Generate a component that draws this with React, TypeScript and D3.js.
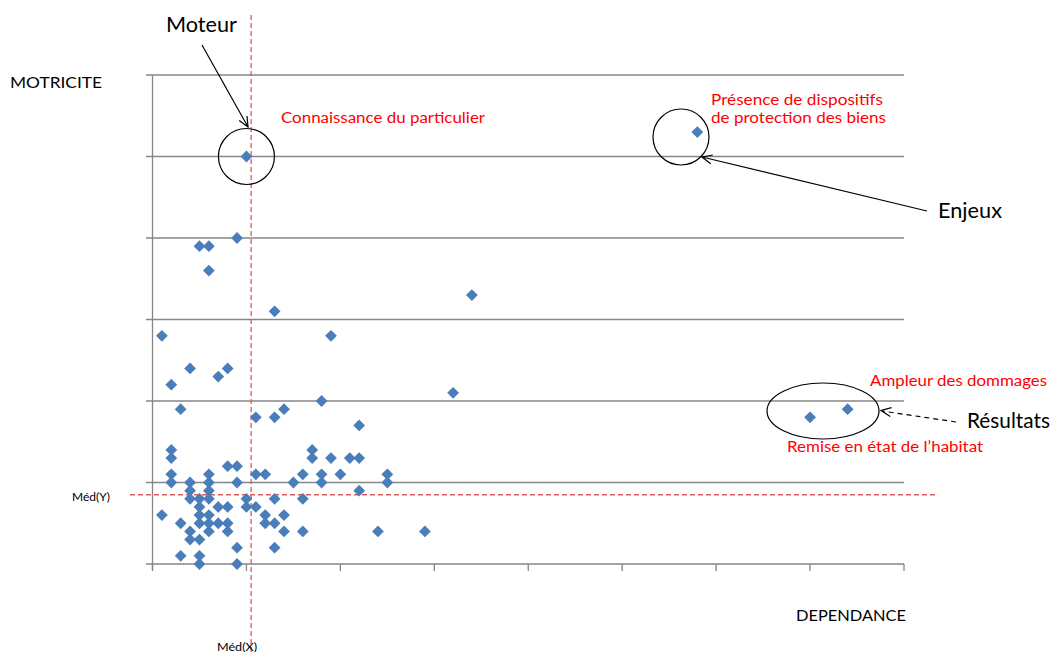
import React from "react";
import * as d3 from "d3";

// Dependance (x) and Motricite (y) scores of each variable
const dependance = [
  2, 2, 17, 17, 19, 21, 22, 8, 9,
  2, 6, 11, 12, 16, 18, 20, 25,
  2, 4, 6, 9, 15, 18, 25,
  4, 6, 22,
  4, 5, 6, 10, 13, 16,
  5, 7, 8, 10, 11,
  1, 5, 6, 12, 14,
  3, 5, 6, 7, 8, 12, 13,
  4, 6, 8, 14, 16, 24, 29,
  4, 5,
  9, 13,
  3, 5,
  5, 9,
  9, 5, 6, 6, 13, 1, 19, 4, 8, 7, 2, 3, 18, 32, 11, 13, 14, 22, 34,
  10, 58, 70, 74,
];
const motricite = [
  14, 13, 14, 13, 13, 13, 13, 12, 12,
  11, 11, 11, 11, 11, 11, 11, 11,
  10, 10, 10, 10, 10, 10, 10,
  9, 9, 9,
  8, 8, 8, 8, 8, 8,
  7, 7, 7, 7, 7,
  6, 6, 6, 6, 6,
  5, 5, 5, 5, 5, 5, 5,
  4, 4, 4, 4, 4, 4, 4,
  3, 3,
  2, 2,
  1, 1,
  0, 0,
  40, 39, 39, 36, 31, 28, 28, 24, 24, 23, 22, 19, 20, 21, 18, 18, 19, 17, 33,
  50, 53, 18, 19,
];

const xTicks = [0, 10, 20, 30, 40, 50, 60, 70, 80];
const yTicks = [0, 10, 20, 30, 40, 50, 60];
const medianX = 10.5;
const medianY = 8.5;

const W = 1053;
const H = 652;
const FONT = "Lato, 'Open Sans', sans-serif";

export default function App() {
  const x = d3.scaleLinear().domain([0, 80]).range([152.5, 904]);
  const y = d3.scaleLinear().domain([0, 60]).range([564, 75]);
  const grid = "#868686";
  const red = "#dc5a58";
  const pts = dependance.map((d, i) => [d, motricite[i]]);
  const r = 5.9;
  const diamond = `M0,${-r}L${r},0L0,${r}L${-r},0Z`;

  const arrowHead = (x1: number, y1: number, x2: number, y2: number, len = 11, ang = 0.42) => {
    const a = Math.atan2(y2 - y1, x2 - x1);
    const p1 = [x2 - len * Math.cos(a - ang), y2 - len * Math.sin(a - ang)];
    const p2 = [x2 - len * Math.cos(a + ang), y2 - len * Math.sin(a + ang)];
    return `M${p1[0]},${p1[1]}L${x2},${y2}L${p2[0]},${p2[1]}`;
  };

  const T = (props: { x: number; y: number; size: number; len: number; color?: string; children: string }) => (
    <text
      x={props.x}
      y={props.y}
      fontSize={props.size}
      fill={props.color || "#000"}
      textLength={props.len}
      lengthAdjust="spacingAndGlyphs"
    >
      {props.children}
    </text>
  );

  return (
    <svg
      width={W}
      height={H}
      style={{ position: "absolute", left: 0, top: 0, background: "#fff" }}
      fontFamily={FONT}
    >
      {/* horizontal gridlines with left ticks */}
      {yTicks.map((t) => (
        <line key={"g" + t} x1={146} x2={x(80)} y1={y(t)} y2={y(t)} stroke={grid} strokeWidth={1.3} />
      ))}
      {/* y axis */}
      <line x1={x(0)} x2={x(0)} y1={y(60)} y2={y(0) + 6} stroke={grid} strokeWidth={1.3} />
      {/* x axis ticks */}
      {xTicks.map((t) => (
        <line key={"xt" + t} x1={x(t)} x2={x(t)} y1={y(0)} y2={y(0) + 7} stroke={grid} strokeWidth={1.3} />
      ))}

      {/* medians */}
      <line x1={130} x2={937} y1={y(medianY)} y2={y(medianY)} stroke={red} strokeWidth={1.3} strokeDasharray="5,3" />
      <line x1={x(medianX)} x2={x(medianX)} y1={15} y2={H} stroke={red} strokeWidth={1.3} strokeDasharray="5,3" />

      {/* points */}
      {pts.map(([a, b], i) => (
        <path key={i} d={diamond} transform={`translate(${x(a)},${y(b)})`} fill="#4a7ebb" />
      ))}

      {/* axis titles */}
      <T x={10} y={88} size={15.5} len={92}>MOTRICITE</T>
      <T x={796} y={621} size={15.5} len={110}>DEPENDANCE</T>
      <T x={72} y={501} size={11} len={38}>Méd(Y)</T>
      <T x={217} y={651} size={11} len={40}>Méd(X)</T>

      {/* Moteur */}
      <circle cx={x(10)} cy={y(50)} r={28} fill="none" stroke="#000" strokeWidth={1.2} />
      <line x1={202} y1={45} x2={248} y2={127} stroke="#000" strokeWidth={1.2} />
      <path d={arrowHead(202, 45, 248, 127)} fill="none" stroke="#000" strokeWidth={1.2} />
      <T x={166} y={32} size={20.5} len={71}>Moteur</T>
      <T x={281} y={123} size={15.5} len={204} color="#ff0000">Connaissance du particulier</T>

      {/* Enjeux */}
      <circle cx={681} cy={137} r={28} fill="none" stroke="#000" strokeWidth={1.2} />
      <line x1={927} y1={211} x2={702} y2={157} stroke="#000" strokeWidth={1.2} />
      <path d={arrowHead(927, 211, 702, 157)} fill="none" stroke="#000" strokeWidth={1.2} />
      <T x={711} y={105} size={15.5} len={172} color="#ff0000">Présence de dispositifs</T>
      <T x={711} y={123} size={15.5} len={175} color="#ff0000">de protection des biens</T>
      <T x={938} y={218} size={20.5} len={64}>Enjeux</T>

      {/* Résultats */}
      <ellipse cx={823} cy={411} rx={56} ry={28} fill="none" stroke="#000" strokeWidth={1.2} />
      <line x1={956} y1={422} x2={882} y2={411} stroke="#000" strokeWidth={1.2} strokeDasharray="5,4" />
      <path d={arrowHead(956, 422, 881, 410.5)} fill="none" stroke="#000" strokeWidth={1.2} />
      <T x={870} y={386} size={15.5} len={177} color="#ff0000">Ampleur des dommages</T>
      <T x={787} y={452} size={15.5} len={196} color="#ff0000">Remise en état de l’habitat</T>
      <T x={967} y={428} size={20.5} len={83}>Résultats</T>
    </svg>
  );
}
